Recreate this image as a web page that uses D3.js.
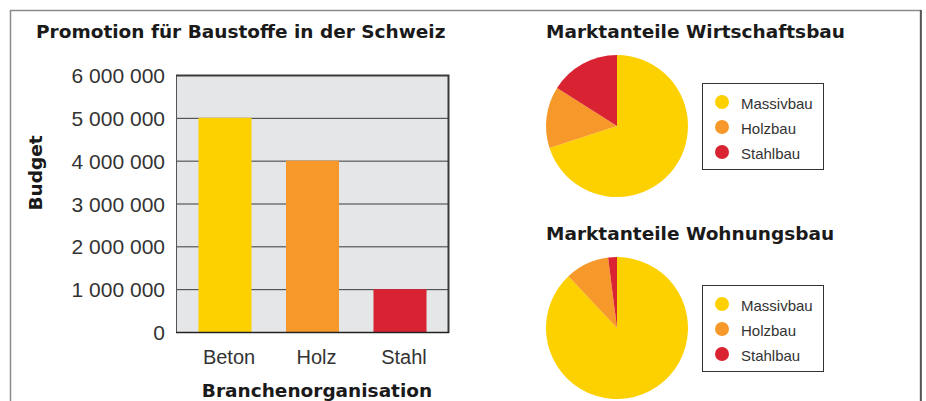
<!DOCTYPE html>
<html>
<head>
<meta charset="utf-8">
<script src="https://cdn.jsdelivr.net/npm/d3@7"></script>
<style>
  body { margin: 0; background: #fff; }
  svg { display: block; font-family: "Liberation Sans", Arial, sans-serif; }
  .bold { font-family: "DejaVu Sans", sans-serif; font-weight: bold; }
</style>
</head>
<body>
<svg width="926" height="401"></svg>
<script>
var WIDTH = 926;
var HEIGHT = 401;

// bar chart data
var categories = ["Beton", "Holz", "Stahl"];
var budgets = [5000000, 4000000, 1000000];
var yTicks = [0, 1000000, 2000000, 3000000, 4000000, 5000000, 6000000];

// pie data
var pieLabels = ["Massivbau", "Holzbau", "Stahlbau"];
var wirtschaftsbau = [70, 14, 16];
var wohnungsbau = [88, 10, 2];

var colors = ["#fdd000", "#f7992a", "#d92333"];
var textColor = "#333";
var titleSize = 18.5;

var svg = d3.select("svg");

// outer frame
svg.append("path")
    .attr("d", "M10.5," + HEIGHT + " V10.5 H920.5 V" + HEIGHT)
    .attr("fill", "none")
    .attr("stroke", "#8a8a8a")
    .attr("stroke-width", 1.5);
svg.append("line")
    .attr("x1", 921).attr("x2", 921).attr("y1", 10).attr("y2", HEIGHT)
    .attr("stroke", "#444").attr("stroke-width", 1.5);

// ---- bar chart ----
var plot = {left: 176, right: 449, top: 75, bottom: 332};

var x = d3.scaleBand()
    .domain(categories)
    .range([plot.left, plot.right])
    .paddingInner(0.394)
    .paddingOuter(0.257);

var y = d3.scaleLinear()
    .domain([0, 6000000])
    .range([plot.bottom, plot.top]);

svg.append("text")
    .attr("class", "bold")
    .attr("x", 36).attr("y", 38)
    .attr("font-size", titleSize)
    .attr("fill", "#1a1a1a")
    .text("Promotion für Baustoffe in der Schweiz");

svg.append("rect")
    .attr("x", plot.left).attr("y", plot.top)
    .attr("width", plot.right - plot.left)
    .attr("height", plot.bottom - plot.top)
    .attr("fill", "#e5e6e8");

// gridlines
svg.append("g")
    .selectAll("line")
    .data(yTicks)
    .enter()
    .append("line")
    .attr("x1", plot.left).attr("x2", plot.right)
    .attr("y1", function(d) { return y(d) + 0.5; })
    .attr("y2", function(d) { return y(d) + 0.5; })
    .attr("stroke", "#3a3a3a")
    .attr("stroke-width", 1);

svg.append("g")
    .selectAll("rect")
    .data(budgets)
    .enter()
    .append("rect")
    .attr("x", function(d, i) { return x(categories[i]); })
    .attr("y", function(d) { return y(d); })
    .attr("width", x.bandwidth())
    .attr("height", function(d) { return y(0) - y(d); })
    .attr("fill", function(d, i) { return colors[i]; });

// plot border
svg.append("rect")
    .attr("x", plot.left + 0.5).attr("y", plot.top + 0.5)
    .attr("width", plot.right - plot.left - 1)
    .attr("height", plot.bottom - plot.top)
    .attr("fill", "none")
    .attr("stroke", "#555");
svg.append("path")
    .attr("d", "M" + plot.left + "," + (plot.top + 0.5) + " H" + (plot.right - 0.5) + " V" + (plot.bottom + 1))
    .attr("fill", "none")
    .attr("stroke", "#3a3a3a")
    .attr("stroke-width", 2);
svg.append("line")
    .attr("x1", plot.left).attr("x2", plot.right)
    .attr("y1", plot.bottom + 0.5).attr("y2", plot.bottom + 0.5)
    .attr("stroke", "#222").attr("stroke-width", 1.5);

// y axis labels
var fmt = function(d) { return d3.format(",")(d).replace(/,/g, " "); };
var yAxis = d3.axisLeft(y)
    .tickValues(yTicks)
    .tickFormat(fmt)
    .tickSize(0)
    .tickPadding(11);
var yg = svg.append("g")
    .attr("transform", "translate(" + plot.left + ",0)")
    .call(yAxis);
yg.select(".domain").remove();
yg.selectAll("text")
    .attr("font-family", "Liberation Sans, Arial, sans-serif")
    .attr("font-size", 21)
    .attr("fill", textColor)
    .attr("dy", "0.36em");

// x axis labels
var xAxis = d3.axisBottom(x).tickSize(0).tickPadding(18);
var xg = svg.append("g")
    .attr("transform", "translate(0," + plot.bottom + ")")
    .call(xAxis);
xg.select(".domain").remove();
xg.selectAll("text")
    .attr("font-family", "Liberation Sans, Arial, sans-serif")
    .attr("font-size", 20)
    .attr("dx", 4)
    .attr("fill", textColor);

svg.append("text")
    .attr("class", "bold")
    .attr("x", 317).attr("y", 397)
    .attr("text-anchor", "middle")
    .attr("font-size", titleSize)
    .attr("fill", "#1a1a1a")
    .text("Branchenorganisation");

svg.append("text")
    .attr("class", "bold")
    .attr("transform", "translate(42,173) rotate(-90)")
    .attr("text-anchor", "middle")
    .attr("font-size", titleSize)
    .attr("fill", "#1a1a1a")
    .text("Budget");

// ---- pies ----
var pie = d3.pie().sort(null).value(function(d) { return d; });

function drawPie(title, values, cx, cy, titleY, legendY) {
    svg.append("text")
        .attr("class", "bold")
        .attr("x", 546).attr("y", titleY)
        .attr("font-size", titleSize)
        .attr("fill", "#1a1a1a")
        .text(title);

    var arc = d3.arc().innerRadius(0).outerRadius(71);
    svg.append("g")
        .attr("transform", "translate(" + cx + "," + cy + ")")
        .selectAll("path")
        .data(pie(values))
        .enter()
        .append("path")
        .attr("d", arc)
        .attr("fill", function(d, i) { return colors[i]; });

    var lg = svg.append("g")
        .attr("transform", "translate(702," + legendY + ")");
    lg.append("rect")
        .attr("x", 0.5).attr("y", 0.5)
        .attr("width", 121).attr("height", 86)
        .attr("fill", "#fff")
        .attr("stroke", "#333");
    var items = lg.selectAll("g.item")
        .data(pieLabels)
        .enter()
        .append("g")
        .attr("class", "item")
        .attr("transform", function(d, i) { return "translate(0," + (19 + i * 25) + ")"; });
    items.append("circle")
        .attr("cx", 20).attr("cy", 0).attr("r", 7)
        .attr("fill", function(d, i) { return colors[i]; });
    items.append("text")
        .attr("x", 39).attr("y", 6.5)
        .attr("font-size", 15)
        .attr("fill", textColor)
        .text(function(d) { return d; });
}

drawPie("Marktanteile Wirtschaftsbau", wirtschaftsbau, 617, 126, 38, 83);
drawPie("Marktanteile Wohnungsbau", wohnungsbau, 617, 328, 240, 285);
</script>
</body>
</html>
